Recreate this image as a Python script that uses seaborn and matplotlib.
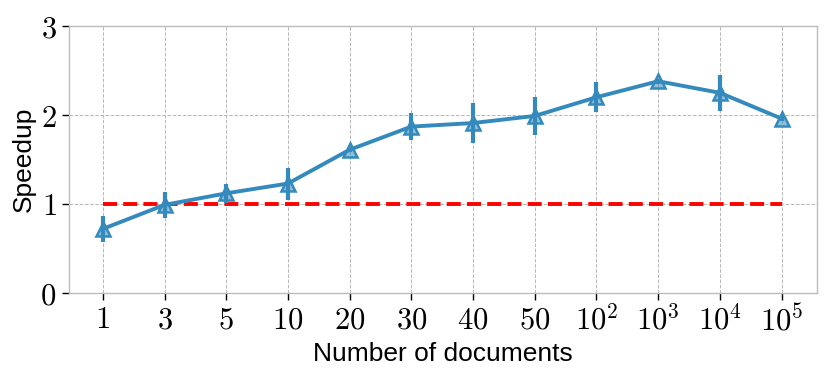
import numpy as np
import pandas as pd
import matplotlib
matplotlib.use("Agg")
import matplotlib.pyplot as plt
import seaborn as sns

categories = ["1", "3", "5", "10", "20", "30", "40", "50", "10^{2}", "10^{3}", "10^{4}", "10^{5}"]
speedup = [0.72, 0.99, 1.12, 1.23, 1.61, 1.87, 1.91, 1.99, 2.20, 2.38, 2.25, 1.96]
errors = [0.15, 0.15, 0.11, 0.18, 0.03, 0.15, 0.22, 0.21, 0.17, 0.03, 0.20, 0.03]
baseline = [1.0] * len(categories)

sns.set_style("whitegrid")
plt.rcParams["font.family"] = ["Liberation Sans", "DejaVu Sans"]
plt.rcParams["mathtext.fontset"] = "cm"
plt.rcParams["text.color"] = "black"
plt.rcParams["axes.labelcolor"] = "black"
plt.rcParams["xtick.color"] = "black"
plt.rcParams["ytick.color"] = "black"

df = pd.DataFrame({"pos": np.arange(len(categories)), "speedup": speedup,
                   "err": errors, "baseline": baseline})

fig, ax = plt.subplots(figsize=(8.3, 3.78), dpi=100)
fig.subplots_adjust(left=0.083, right=0.984, top=0.931, bottom=0.225)

blue = "#348ABD"
sns.lineplot(data=df, x="pos", y="baseline", ax=ax, color="red", lw=2.8,
             linestyle=(0, (3.6, 1.6)), zorder=2)
ax.errorbar(df["pos"], df["speedup"], yerr=df["err"], fmt="none",
            ecolor=blue, elinewidth=3, capsize=0, zorder=3)
sns.lineplot(data=df, x="pos", y="speedup", ax=ax, color=blue, lw=2.8,
             marker="^", markersize=10, markeredgecolor=blue,
             markeredgewidth=1.8, markerfacecolor=(0.204, 0.541, 0.741, 0.55),
             zorder=4)

ax.set_xlim(-0.55, 11.57)
ax.set_ylim(0, 3)
ax.set_xticks(df["pos"])
ax.set_xticklabels([f"${c}$" for c in categories], fontsize=22)
ax.set_yticks([0, 1, 2, 3])
ax.set_yticklabels([f"${v}$" for v in [0, 1, 2, 3]], fontsize=22)
ax.set_xlabel("Number of documents", fontsize=19, labelpad=3, color="black")
ax.set_ylabel("Speedup", fontsize=19, labelpad=3, color="black")

ax.grid(True, linestyle="--", color="#b8b8b8", lw=0.7)
for s in ax.spines.values():
    s.set_visible(True)
    s.set_color("#bcbcbc")
    s.set_linewidth(1.0)
ax.tick_params(axis="both", which="major", direction="out", length=5,
               width=1, color="black", labelcolor="black",
               bottom=True, left=True, pad=4)

fig.savefig("out.png", dpi=100)
